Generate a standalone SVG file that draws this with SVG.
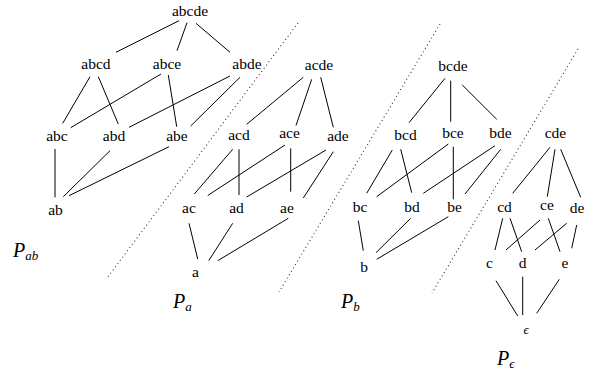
<svg xmlns="http://www.w3.org/2000/svg" width="592" height="375" viewBox="0 0 592 375">
<defs>
<style>
.e line{stroke:#000;stroke-width:1;fill:none}
.d line{stroke:#333;stroke-width:1.1;stroke-dasharray:1 3;fill:none}
</style>
</defs>
<rect width="592" height="375" fill="#fff"/>
<g class="d" id="dividers">
<line x1="298" y1="23" x2="107" y2="278"/>
<line x1="440" y1="24" x2="279" y2="292"/>
<line x1="578" y1="49" x2="432" y2="293"/>
</g>
<g class="e" id="connectors">
<line x1="179" y1="20.7" x2="116" y2="52.3"/>
<line x1="187" y1="22.7" x2="177" y2="50.7"/>
<line x1="196" y1="23.3" x2="230" y2="52.3"/>
<line x1="90" y1="76.7" x2="62.7" y2="123.3"/>
<line x1="98.3" y1="76.7" x2="118.3" y2="124"/>
<line x1="161" y1="74" x2="70.7" y2="127.7"/>
<line x1="168.3" y1="75" x2="176.7" y2="126.7"/>
<line x1="230" y1="76" x2="129" y2="127.3"/>
<line x1="240" y1="77.3" x2="190.7" y2="126"/>
<line x1="55" y1="149" x2="55" y2="197.3"/>
<line x1="110" y1="150.7" x2="63.3" y2="196.7"/>
<line x1="169" y1="146.7" x2="69" y2="195.7"/>
<line x1="303.3" y1="77.3" x2="246.7" y2="124.3"/>
<line x1="311.7" y1="79.3" x2="296" y2="125.5"/>
<line x1="320.7" y1="77.3" x2="333.3" y2="127.3"/>
<line x1="232.7" y1="149.3" x2="194.3" y2="194"/>
<line x1="239" y1="149.3" x2="239" y2="195"/>
<line x1="285" y1="145" x2="207.7" y2="195.5"/>
<line x1="290.7" y1="148.3" x2="290.7" y2="191.7"/>
<line x1="326" y1="150" x2="246.7" y2="197"/>
<line x1="333.3" y1="151.7" x2="303.3" y2="198"/>
<line x1="189" y1="223.3" x2="197.7" y2="259"/>
<line x1="232.7" y1="223.3" x2="208.7" y2="260.7"/>
<line x1="288.3" y1="218.3" x2="217.7" y2="260.7"/>
<line x1="445" y1="78.3" x2="409" y2="122.7"/>
<line x1="450.7" y1="80.7" x2="450.7" y2="121.7"/>
<line x1="462.3" y1="85" x2="496.7" y2="119.3"/>
<line x1="392.3" y1="150" x2="366.7" y2="193.3"/>
<line x1="400.7" y1="149.3" x2="411.7" y2="192.7"/>
<line x1="448.3" y1="144" x2="376.7" y2="196.7"/>
<line x1="453.3" y1="146.7" x2="453.3" y2="199.3"/>
<line x1="495" y1="145.7" x2="423.3" y2="193.3"/>
<line x1="500.7" y1="149.3" x2="465" y2="194"/>
<line x1="358.3" y1="220.7" x2="363.3" y2="250.7"/>
<line x1="410.7" y1="218.3" x2="376" y2="252.7"/>
<line x1="448.3" y1="216.7" x2="376.7" y2="259.3"/>
<line x1="550" y1="147.3" x2="512.7" y2="193.3"/>
<line x1="555" y1="149.3" x2="547.3" y2="196.7"/>
<line x1="560.7" y1="149.3" x2="580.7" y2="197.3"/>
<line x1="502.7" y1="218.3" x2="495" y2="250"/>
<line x1="510" y1="218.3" x2="521.7" y2="251.7"/>
<line x1="540" y1="220" x2="506" y2="250"/>
<line x1="548.3" y1="218.3" x2="560" y2="251.7"/>
<line x1="566.7" y1="223.3" x2="535" y2="250"/>
<line x1="576.7" y1="225" x2="571.7" y2="248.3"/>
<line x1="496" y1="280.7" x2="517.7" y2="316"/>
<line x1="522.7" y1="276.7" x2="522.7" y2="315"/>
<line x1="559.3" y1="279.3" x2="536.7" y2="313.3"/>
</g>
<g id="nodes" font-size="15.5" text-anchor="middle" fill="#000">
<g id="abcde"><text style="font-family:'Liberation Serif',serif" x="190" y="15.5">abcde</text></g>
<g id="abcd"><text style="font-family:'Liberation Serif',serif" x="96" y="69">abcd</text></g>
<g id="abce"><text style="font-family:'Liberation Serif',serif" x="167" y="69">abce</text></g>
<g id="abde"><text style="font-family:'Liberation Serif',serif" x="247" y="69">abde</text></g>
<g id="abc"><text style="font-family:'Liberation Serif',serif" x="57" y="140.5">abc</text></g>
<g id="abd"><text style="font-family:'Liberation Serif',serif" x="114" y="140.5">abd</text></g>
<g id="abe"><text style="font-family:'Liberation Serif',serif" x="177" y="140.5">abe</text></g>
<g id="ab"><text style="font-family:'Liberation Serif',serif" x="55.5" y="215">ab</text></g>
<g id="acde"><text style="font-family:'Liberation Serif',serif" x="319" y="70">acde</text></g>
<g id="acd"><text style="font-family:'Liberation Serif',serif" x="239" y="139.5">acd</text></g>
<g id="ace"><text style="font-family:'Liberation Serif',serif" x="289.5" y="138">ace</text></g>
<g id="ade"><text style="font-family:'Liberation Serif',serif" x="338" y="140.5">ade</text></g>
<g id="ac"><text style="font-family:'Liberation Serif',serif" x="189" y="213">ac</text></g>
<g id="ad"><text style="font-family:'Liberation Serif',serif" x="236.5" y="213">ad</text></g>
<g id="ae"><text style="font-family:'Liberation Serif',serif" x="287" y="213">ae</text></g>
<g id="a"><text style="font-family:'Liberation Serif',serif" x="195.5" y="277">a</text></g>
<g id="bcde"><text style="font-family:'Liberation Serif',serif" x="453" y="71">bcde</text></g>
<g id="bcd"><text style="font-family:'Liberation Serif',serif" x="405.5" y="140">bcd</text></g>
<g id="bce"><text style="font-family:'Liberation Serif',serif" x="453" y="138">bce</text></g>
<g id="bde"><text style="font-family:'Liberation Serif',serif" x="500.5" y="138">bde</text></g>
<g id="bc"><text style="font-family:'Liberation Serif',serif" x="360" y="212">bc</text></g>
<g id="bd"><text style="font-family:'Liberation Serif',serif" x="412" y="212">bd</text></g>
<g id="be"><text style="font-family:'Liberation Serif',serif" x="454.5" y="212">be</text></g>
<g id="b"><text style="font-family:'Liberation Serif',serif" x="364" y="272">b</text></g>
<g id="cde"><text style="font-family:'Liberation Serif',serif" x="555.5" y="138">cde</text></g>
<g id="cd"><text style="font-family:'Liberation Serif',serif" x="504.5" y="212">cd</text></g>
<g id="ce"><text style="font-family:'Liberation Serif',serif" x="547" y="210">ce</text></g>
<g id="de"><text style="font-family:'Liberation Serif',serif" x="577" y="213">de</text></g>
<g id="c"><text style="font-family:'Liberation Serif',serif" x="489.5" y="268">c</text></g>
<g id="d"><text style="font-family:'Liberation Serif',serif" x="522.5" y="268">d</text></g>
<g id="e"><text style="font-family:'Liberation Serif',serif" x="565" y="268">e</text></g>
<g id="eps"><text style="font-family:'Liberation Serif',serif;font-style:italic;font-size:13px" x="526" y="334">ϵ</text></g>
</g>
<g id="labels" font-size="20" fill="#000">
<text style="font-family:'Liberation Serif',serif;font-style:italic" x="13" y="257">P<tspan font-size="13" dy="3">ab</tspan></text>
<text style="font-family:'Liberation Serif',serif;font-style:italic" x="173" y="308">P<tspan font-size="13" dy="3">a</tspan></text>
<text style="font-family:'Liberation Serif',serif;font-style:italic" x="341" y="308">P<tspan font-size="13" dy="3">b</tspan></text>
<text style="font-family:'Liberation Serif',serif;font-style:italic" x="497" y="365">P<tspan font-size="13" dy="3">ϵ</tspan></text>
</g>
</svg>
